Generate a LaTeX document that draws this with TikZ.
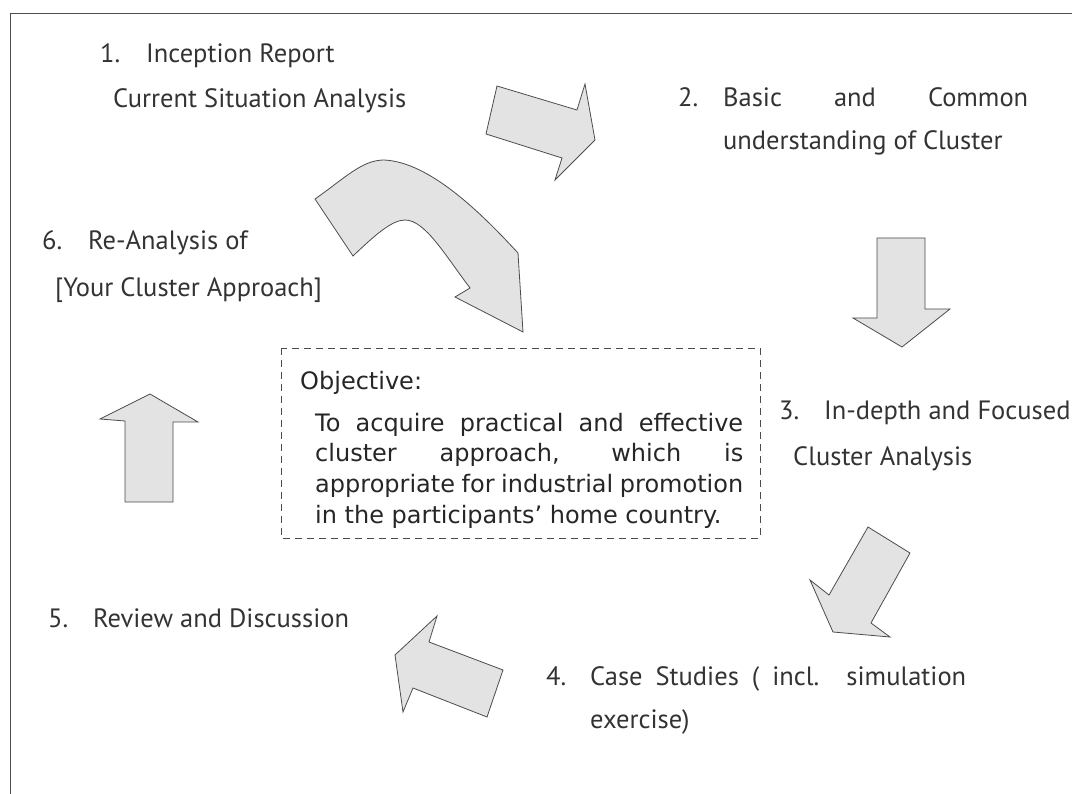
\documentclass[tikz,border=0pt]{standalone}
\usepackage{fontspec}
\setmainfont{PT Sans}
\newfontfamily\objfont{DejaVu Sans}
\begin{document}
\begin{tikzpicture}[x=1pt, y=-1pt,
    blockarrow/.style={draw=black!70, fill=black!11, line width=0.8pt, line join=miter},
    steplabel/.style={anchor=base west, inner sep=0pt, text=black!80,
        font=\fontsize{26.5}{30}\selectfont},
    objtext/.style={anchor=base west, inner sep=0pt, text=black!85,
        font=\objfont\fontsize{24}{28}\selectfont}]
    \useasboundingbox (0,0) rectangle (1072,794);
    % page frame
    \draw [black!70, line width=0.8pt] (10,794) -- (10,13) -- (1072,13);

    % steps
    \node [steplabel] (inception) at (100,63) {\makebox[46pt][l]{1.}Inception Report};
    \node [steplabel] (current) at (113,108) {Current Situation Analysis};
    \node [steplabel] (basic) at (678,107) {\makebox[45pt][l]{2.}\makebox[305pt][s]{Basic and Common}};
    \node [steplabel] (understanding) at (723,150) {understanding of Cluster};
    \node [steplabel] (indepth) at (779,420) {\makebox[45pt][l]{3.}In-depth and Focused};
    \node [steplabel] (clusteranalysis) at (793,465) {Cluster Analysis};
    \node [steplabel] (casestudies) at (546,685) {\makebox[44pt][l]{4.}\makebox[376pt][s]{Case Studies ( incl. simulation}};
    \node [steplabel] (exercise) at (590,728) {exercise)};
    \node [steplabel] (review) at (48,627) {\makebox[45pt][l]{5.}Review and Discussion};
    \node [steplabel] (reanalysis) at (42,250) {\makebox[46pt][l]{6.}Re-Analysis of};
    \node [steplabel] (approach) at (55,297) {[Your Cluster Approach]};

    % objective box
    \draw [black!70, line width=0.8pt, dash pattern=on 7pt off 5pt] (281,348) rectangle (760,538);
    \node [objtext] (objective) at (300,390) {Objective:};
    \node [objtext] (goala) at (315,432) {\makebox[428pt][s]{To acquire practical and effective}};
    \node [objtext] (goalb) at (315,462) {\makebox[428pt][s]{cluster approach, which is}};
    \node [objtext] (goalc) at (315,493) {\makebox[428pt][s]{appropriate for industrial promotion}};
    \node [objtext] (goald) at (315,523) {in the participants’ home country.};

    % block arrows
    \draw [blockarrow] (497,86) -- (577,110) -- (585,84) -- (595,140) -- (555,180)
        -- (562,158) -- (486,134) -- cycle;
    \draw [blockarrow] (877,238) -- (925,238) -- (925,309) -- (950,309) -- (902,347)
        -- (853,318) -- (877,318) -- cycle;
    \draw [blockarrow] (868,527) -- (910,553) -- (871,623) -- (890,637) -- (833,632)
        -- (810,580) -- (829,595) -- cycle;
    \draw [blockarrow] (437,616) -- (429,642) -- (503,670) -- (487,717) -- (413,688)
        -- (403,712) -- (395,655) -- cycle;
    \draw [blockarrow] (150,394) -- (198,422) -- (173,422) -- (173,502) -- (125,502)
        -- (125,421) -- (100,419) -- cycle;
    % curved arrow into the objective
    \draw [blockarrow] (315,199) .. controls (345,178) and (362,160) .. (384,160)
        .. controls (430,162) and (482,214) .. (518,253) -- (523,332) -- (455,297)
        -- (470,288) .. controls (445,255) and (425,220) .. (405,220)
        .. controls (392,220) and (375,235) .. (353,256) -- cycle;
\end{tikzpicture}
\end{document}
